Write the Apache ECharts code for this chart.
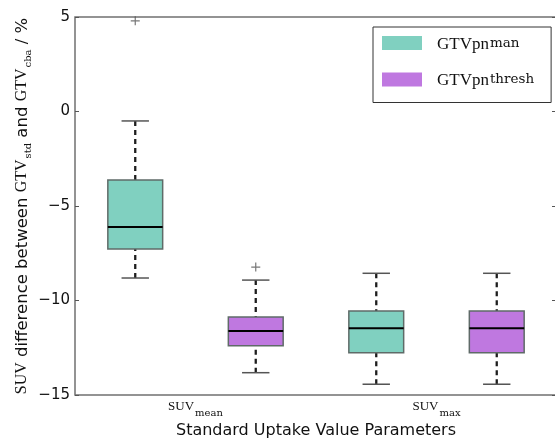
<!DOCTYPE html>
<html>
<head>
<meta charset="utf-8">
<style>
  html, body { margin: 0; padding: 0; background: #ffffff; }
  #chart { width: 555px; height: 441px; }
</style>
<script src="https://cdn.jsdelivr.net/npm/echarts/dist/echarts.min.js"></script>
</head>
<body>
<div id="chart"></div>
<script>
// SUV parameters on the x axis (subscripts of "SUV")
const categories = ['mean', 'max'];
// GTVpn contouring variants (superscripts in the legend)
const groups = ['man', 'thresh'];
// Five-number summaries per category: [min, Q1, median, Q3, max]
const manStats = [
  [-8.81, -7.28, -6.11, -3.62, -0.50],
  [-14.43, -12.76, -11.47, -10.56, -8.56]
];
const threshStats = [
  [-13.82, -12.39, -11.61, -10.87, -8.92],
  [-14.43, -12.76, -11.47, -10.56, -8.56]
];
// Outliers: [category index, value]
const manOutliers = [[0, 4.8]];
const threshOutliers = [[0, -8.23]];
// Value axis ticks
const yTicks = [5, 0, -5, -10, -15];

const TEAL = '#80d0c0';
const PURPLE = '#bf78e0';
const SERIF = '"Liberation Serif", "Times New Roman", serif';
const SCRIPT = '"DejaVu Serif", serif';
const SANS = '"DejaVu Sans", sans-serif';

// Each category holds two boxes side by side: slot = category * 2 + group
const slots = [];
categories.forEach((c, ci) => groups.forEach((g, gi) => slots.push(c + '-' + g)));
const toSlotData = (stats, gi) => stats.map((s, ci) => [ci * groups.length + gi].concat(s));
const toSlotPoints = (pts, gi) => pts.map(p => [p[0] * groups.length + gi, p[1]]);

function boxRenderer(fill) {
  return function (params, api) {
    const slot = api.value(0);
    const ys = [1, 2, 3, 4, 5].map(d => api.coord([slot, api.value(d)])[1]);
    const cx = api.coord([slot, 0])[0];
    const band = api.size([1, 0])[0];
    const bw = band * 0.455;
    const cw = bw * 0.5;
    const [yMin, yQ1, yMed, yQ3, yMax] = ys;
    const whisker = { stroke: '#1e1e1e', lineWidth: 2.3, lineDash: [5, 4] };
    const cap = { stroke: '#555555', lineWidth: 1.5 };
    return {
      type: 'group',
      children: [
        { type: 'line', shape: { x1: cx, y1: yMax, x2: cx, y2: yQ3 }, style: whisker },
        { type: 'line', shape: { x1: cx, y1: yMin, x2: cx, y2: yQ1 }, style: whisker },
        { type: 'line', shape: { x1: cx - cw / 2, y1: yMax, x2: cx + cw / 2, y2: yMax }, style: cap },
        { type: 'line', shape: { x1: cx - cw / 2, y1: yMin, x2: cx + cw / 2, y2: yMin }, style: cap },
        { type: 'rect', shape: { x: cx - bw / 2, y: yQ3, width: bw, height: yQ1 - yQ3 },
          style: { fill: fill, stroke: '#5f6b68', lineWidth: 1.5 } },
        { type: 'line', shape: { x1: cx - bw / 2, y1: yMed, x2: cx + bw / 2, y2: yMed },
          style: { stroke: '#000000', lineWidth: 2 } }
      ]
    };
  };
}

const plusSymbol = 'path://M0,5L10,5M5,0L5,10';

const chart = echarts.init(document.getElementById('chart'), null, { renderer: 'canvas' });
chart.setOption({
  animation: false,
  backgroundColor: '#ffffff',
  grid: {
    left: 75, top: 17, right: -2, bottom: 46,
    containLabel: false, outerBoundsMode: 'none',
    show: true, borderColor: '#707070', borderWidth: 1.5, backgroundColor: 'transparent'
  },
  legend: {
    orient: 'vertical',
    left: 373, top: 27,
    padding: [9, 17, 13, 9],
    itemWidth: 40, itemHeight: 14, itemGap: 19.5,
    borderColor: '#333333', borderWidth: 1,
    icon: 'rect',
    data: [
      { name: groups[0], itemStyle: { color: TEAL, borderWidth: 0 } },
      { name: groups[1], itemStyle: { color: PURPLE, borderWidth: 0 } }
    ],
    formatter: name => '{b|GTVpn}{p|' + name + '}',
    textStyle: {
      rich: {
        b: { fontFamily: SERIF, fontSize: 17, color: '#111', lineHeight: 20, verticalAlign: 'bottom', padding: [0, 0, 0, 10] },
        p: { fontFamily: SCRIPT, fontSize: 13.5, color: '#111', lineHeight: 14, verticalAlign: 'bottom', padding: [0, 0, 3, 1] }
      }
    }
  },
  xAxis: [
    {
      type: 'category', data: slots, gridIndex: 0, position: 'bottom',
      boundaryGap: true, show: false
    },
    {
      type: 'category', data: categories, gridIndex: 0, position: 'bottom',
      boundaryGap: true,
      axisLine: { show: false }, axisTick: { show: false }, splitLine: { show: false },
      axisLabel: {
        margin: 5,
        formatter: v => '{m|SUV}{s|' + v + '}',
        rich: {
          m: { fontFamily: SERIF, fontSize: 13, color: '#111', lineHeight: 14, verticalAlign: 'top' },
          s: { fontFamily: SCRIPT, fontSize: 10, color: '#111', lineHeight: 10, verticalAlign: 'top', padding: [8, 0, 0, 1] }
        }
      },
      name: 'Standard Uptake Value Parameters',
      nameLocation: 'middle', nameGap: 28, nameMoveOverlap: false,
      nameTextStyle: { fontFamily: SANS, fontSize: 16, color: '#111' }
    }
  ],
  yAxis: [
    {
      type: 'value', position: 'left',
      min: yTicks[yTicks.length - 1], max: yTicks[0], interval: yTicks[0] - yTicks[1],
      axisLine: { show: false },
      axisTick: { show: true, inside: true, length: 4, lineStyle: { color: '#555', width: 1 } },
      splitLine: { show: false },
      axisLabel: {
        margin: 5, fontFamily: SANS, fontSize: 15, color: '#111',
        formatter: v => String(v).replace('-', '\u2212')
      },
      name: '{s|SUV}{t| difference between }{s|GTV}{u|std}{t| and }{s|GTV}{u|cba}{t| / %}',
      nameLocation: 'middle', nameGap: 43, nameRotate: 90, nameMoveOverlap: false,
      nameTextStyle: {
        rich: {
          s: { fontFamily: SERIF, fontSize: 16, color: '#111', lineHeight: 18, verticalAlign: 'top' },
          t: { fontFamily: SANS, fontSize: 16.5, color: '#111', lineHeight: 18, verticalAlign: 'top' },
          u: { fontFamily: SCRIPT, fontSize: 10, color: '#111', lineHeight: 10, verticalAlign: 'top', padding: [9, 0, 0, 1] }
        }
      }
    },
    {
      type: 'value', position: 'right',
      min: yTicks[yTicks.length - 1], max: yTicks[0], interval: yTicks[0] - yTicks[1],
      axisLine: { show: false },
      axisTick: { show: true, inside: true, length: 5, lineStyle: { color: '#555', width: 1 } },
      splitLine: { show: false },
      axisLabel: { show: false }
    }
  ],
  series: [
    {
      name: groups[0], type: 'custom', xAxisIndex: 0, yAxisIndex: 0,
      itemStyle: { color: TEAL },
      encode: { x: 0, y: [1, 2, 3, 4, 5] },
      data: toSlotData(manStats, 0),
      renderItem: boxRenderer(TEAL)
    },
    {
      name: groups[1], type: 'custom', xAxisIndex: 0, yAxisIndex: 0,
      itemStyle: { color: PURPLE },
      encode: { x: 0, y: [1, 2, 3, 4, 5] },
      data: toSlotData(threshStats, 1),
      renderItem: boxRenderer(PURPLE)
    },
    {
      name: 'outliers', type: 'scatter', xAxisIndex: 0, yAxisIndex: 0,
      symbol: plusSymbol, symbolSize: 9,
      itemStyle: { color: 'transparent', borderColor: '#555555', borderWidth: 1.2 },
      data: toSlotPoints(manOutliers, 0).concat(toSlotPoints(threshOutliers, 1)),
      z: 5
    }
  ]
});
</script>
</body>
</html>
